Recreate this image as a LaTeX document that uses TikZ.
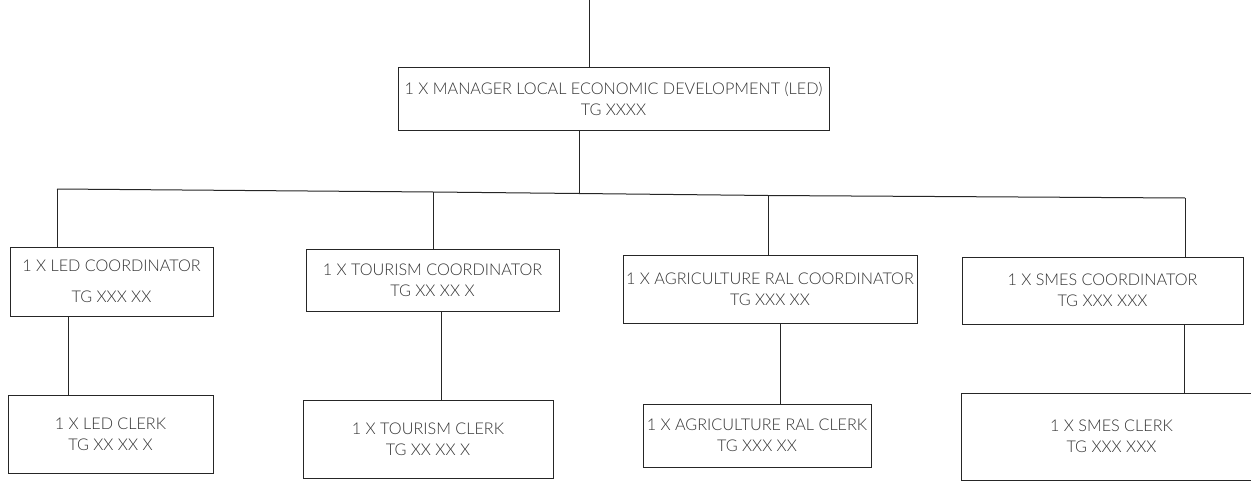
\documentclass[tikz,border=0pt]{standalone}
\usepackage{fontspec}
\setmainfont{Lato Light}
\begin{document}
\begin{tikzpicture}[x=1pt,y=-1pt,
  post/.style={draw=black!85, line width=0.9pt, inner sep=0pt, align=center,
               text=black!80, font=\fontsize{16.2}{21}\selectfont},
  link/.style={draw=black!85, line width=1pt}]
\useasboundingbox (0,0) rectangle (1251,487);
\clip (0,0) rectangle (1251,487);
\fill[white] (0,0) rectangle (1251,487);

% manager
\node[post, minimum width=431pt, minimum height=63pt] (mgr) at (613.5,98.5)
  {1 X MANAGER LOCAL ECONOMIC DEVELOPMENT (LED)\\TG XXXX};

% coordinators
\node[post, minimum width=203pt, minimum height=69pt] (c1) at (111.5,281.5)
  {1 X LED COORDINATOR\\[10pt]TG XXX XX};
\node[post, minimum width=253pt, minimum height=62pt] (c2) at (432.5,280)
  {1 X TOURISM COORDINATOR\\TG XX XX X};
\node[post, minimum width=294pt, minimum height=68pt] (c3) at (770,289)
  {1 X AGRICULTURE RAL COORDINATOR\\TG XXX XX};
\node[post, minimum width=281pt, minimum height=67pt] (c4) at (1102.5,290.5)
  {1 X SMES COORDINATOR\\TG XXX XXX};

% clerks
\node[post, minimum width=205pt, minimum height=78pt] (k1) at (110.5,434)
  {1 X LED CLERK\\TG XX XX X};
\node[post, minimum width=250pt, minimum height=78pt] (k2) at (428,439)
  {1 X TOURISM CLERK\\TG XX XX X};
\node[post, minimum width=228pt, minimum height=63pt] (k3) at (757,435.5)
  {1 X AGRICULTURE RAL CLERK\\TG XXX XX};
\node[post, minimum width=301pt, minimum height=87pt] (k4) at (1111.5,436.5)
  {1 X SMES CLERK\\TG XXX XXX};

% line from above and down to the branch bus
\coordinate (top) at (589,0);
\coordinate (busM) at (579,193.5);
\draw[link] (top) -- (top |- mgr.north);
\draw[link] (busM |- mgr.south) -- (busM);

% branch bus
\coordinate (bus1) at (57,189);
\coordinate (bus2) at (433,192);
\coordinate (bus3) at (768,195.5);
\coordinate (bus4) at (1185,198);
\draw[link] (bus1) -- (bus2) -- (busM) -- (bus3) -- (bus4);
\draw[link] (bus1) -- (bus1 |- c1.north);
\draw[link] (bus2) -- (bus2 |- c2.north);
\draw[link] (bus3) -- (bus3 |- c3.north);
\draw[link] (bus4) -- (bus4 |- c4.north);

% coordinator to clerk
\coordinate (d1) at (68,0);
\coordinate (d2) at (441,0);
\coordinate (d3) at (780,0);
\coordinate (d4) at (1184,0);
\draw[link] (d1 |- c1.south) -- (d1 |- k1.north);
\draw[link] (d2 |- c2.south) -- (d2 |- k2.north);
\draw[link] (d3 |- c3.south) -- (d3 |- k3.north);
\draw[link] (d4 |- c4.south) -- (d4 |- k4.north);
\end{tikzpicture}
\end{document}
